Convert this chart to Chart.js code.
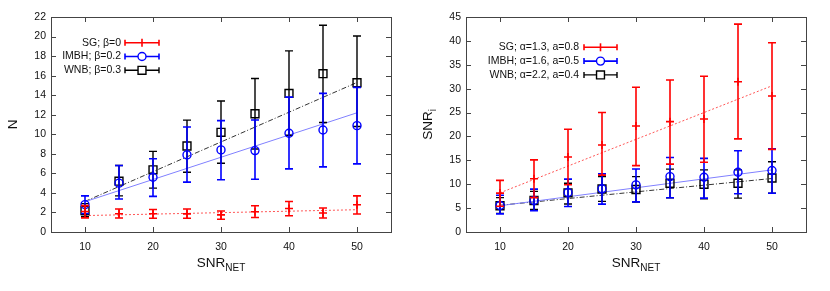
<!DOCTYPE html>
<html>
<head>
<meta charset="utf-8">
<script src="https://cdn.jsdelivr.net/npm/chart.js@4.4.0/dist/chart.umd.min.js"></script>
<style>
  html,body{margin:0;padding:0;background:#fff;}
  #wrap{display:flex;width:830px;height:291px;}
  canvas{display:block;}
</style>
</head>
<body>
<div id="wrap">
  <canvas id="c1" width="415" height="291"></canvas>
  <canvas id="c2" width="415" height="291"></canvas>
</div>
<script>
// ---------- shared ----------
const snr = [10, 15, 20, 25, 30, 35, 40, 45, 50];
const xTickLabels = [10, 20, 30, 40, 50];
const fitX = [10, 50];

// ---------- left panel: N ----------
const yTicksN = [0, 2, 4, 6, 8, 10, 12, 14, 16, 18, 20, 22];
const nSG     = [2.1, 1.87, 1.87, 1.85, 1.75, 2.07, 2.41, 1.94, 2.79];
const nSGLo   = [1.45, 1.43, 1.4, 1.4, 1.3, 1.49, 1.66, 1.43, 1.84];
const nSGHi   = [2.7, 2.35, 2.3, 2.35, 2.15, 2.68, 3.12, 2.45, 3.7];
const nIMBH   = [2.8, 5.0, 5.6, 7.89, 8.4, 8.33, 10.1, 10.44, 10.88];
const nIMBHLo = [1.9, 3.37, 3.65, 5.1, 5.34, 5.4, 6.46, 6.66, 6.97];
const nIMBHHi = [3.7, 6.8, 7.5, 10.75, 11.4, 11.46, 13.8, 14.18, 14.8];
const nWNB    = [2.2, 5.2, 6.36, 8.8, 10.2, 12.1, 14.18, 16.2, 15.27];
const nWNBLo  = [1.6, 3.7, 4.49, 6.12, 7.04, 8.5, 9.9, 11.2, 10.8];
const nWNBHi  = [2.9, 6.8, 8.25, 11.45, 13.4, 15.7, 18.53, 21.15, 20.06];
const nFitSG   = [1.68, 2.28];
const nFitIMBH = [3.1, 12.2];
const nFitWNB  = [3.13, 15.3];
const nLabels = ['SG; β=0', 'IMBH; β=0.2', 'WNB; β=0.3'];

// ---------- right panel: SNR_i ----------
const yTicksS = [0, 5, 10, 15, 20, 25, 30, 35, 40, 45];
const sSG     = [8.14, 11.13, 15.7, 18.2, 22.2, 23.1, 23.65, 31.45, 28.45];
const sSGLo   = [5.4, 7.2, 9.9, 11.9, 13.9, 14.2, 14.6, 19.5, 17.3];
const sSGHi   = [10.8, 15.1, 21.5, 25.0, 30.3, 31.8, 32.6, 43.5, 39.6];
const sIMBH   = [5.56, 6.6, 8.27, 9.04, 9.87, 11.6, 11.47, 12.5, 12.86];
const sIMBHLo = [3.8, 4.45, 5.35, 5.84, 6.3, 7.16, 7.1, 8.0, 8.1];
const sIMBHHi = [7.7, 8.98, 11.06, 12.17, 13.2, 15.6, 15.4, 17.0, 17.4];
const sWNB    = [5.5, 6.6, 8.2, 9.0, 8.9, 10.2, 10.0, 10.2, 11.3];
const sWNBLo  = [3.9, 4.7, 5.85, 6.4, 6.26, 7.16, 6.95, 7.1, 8.1];
const sWNBHi  = [7.2, 8.5, 10.2, 11.6, 11.6, 13.15, 13.0, 13.0, 14.7];
const sFitSG   = [8.2, 30.6];
const sFitIMBH = [5.5, 13.0];
const sFitWNB  = [5.6, 11.2];
const sLabels = ['SG; α=1.3, a=0.8', 'IMBH; α=1.6, a=0.5', 'WNB; α=2.2, a=0.4'];

const RED = '#ff0000', BLUE = '#0000ff', BLACK = '#000000';
const FONT = '"Liberation Sans", Arial, Helvetica, sans-serif';
const CAP = 4;

function pts(xs, ys) { return xs.map((x, i) => ({ x: x, y: ys[i] })); }

function buildChart(canvasId, cfg) {
  const errSets = [
    { lo: cfg.sgLo, hi: cfg.sgHi, color: RED, lw: 1.6 },
    { lo: cfg.imLo, hi: cfg.imHi, color: BLUE, lw: 1.6 },
    { lo: cfg.wnLo, hi: cfg.wnHi, color: BLACK, lw: 1.4 }
  ];
  const markers = [
    { style: 'cross', r: 4, color: RED, lw: 1.6 },
    { style: 'circle', r: 4, color: BLUE, lw: 1.4 },
    { style: 'rect', r: 5.6, color: BLACK, lw: 1.4 }
  ];

  const plugin = {
    id: 'gp_' + canvasId,
    beforeDatasetDraw(chart, args) {
      const e = errSets[args.index];
      if (!e) return;
      const xs = chart.scales.x, ys = chart.scales.y, ctx = chart.ctx;
      ctx.save();
      ctx.strokeStyle = e.color; ctx.lineWidth = e.lw; ctx.setLineDash([]);
      snr.forEach((x, i) => {
        const px = xs.getPixelForValue(x);
        const pl = ys.getPixelForValue(e.lo[i]);
        const ph = ys.getPixelForValue(e.hi[i]);
        ctx.beginPath();
        ctx.moveTo(px, pl); ctx.lineTo(px, ph);
        ctx.moveTo(px - CAP, pl); ctx.lineTo(px + CAP, pl);
        ctx.moveTo(px - CAP, ph); ctx.lineTo(px + CAP, ph);
        ctx.stroke();
      });
      ctx.restore();
    },
    afterDraw(chart) {
      const ctx = chart.ctx, a = chart.chartArea;
      const xs = chart.scales.x, ys = chart.scales.y;
      ctx.save();
      // frame
      ctx.strokeStyle = '#444'; ctx.lineWidth = 1;
      ctx.strokeRect(Math.round(a.left) + 0.5, Math.round(a.top) + 0.5,
                     Math.round(a.right - a.left), Math.round(a.bottom - a.top));
      // inward tick marks, mirrored
      const T = 5;
      ctx.beginPath();
      xTickLabels.forEach(v => {
        const p = Math.round(xs.getPixelForValue(v)) + 0.5;
        ctx.moveTo(p, a.bottom); ctx.lineTo(p, a.bottom - T);
        ctx.moveTo(p, a.top); ctx.lineTo(p, a.top + T);
      });
      cfg.yTicks.forEach(v => {
        const p = Math.round(ys.getPixelForValue(v)) + 0.5;
        ctx.moveTo(a.left, p); ctx.lineTo(a.left + T, p);
        ctx.moveTo(a.right, p); ctx.lineTo(a.right - T, p);
      });
      ctx.stroke();

      // legend
      ctx.font = '10.5px ' + FONT;
      ctx.textAlign = 'right'; ctx.textBaseline = 'middle';
      cfg.labels.forEach((lab, i) => {
        const y = cfg.legY + i * 13.8;
        const m = markers[i], e = errSets[i];
        ctx.fillStyle = '#111';
        ctx.fillText(lab, cfg.legTextX, y);
        const x1 = cfg.legX1, x2 = cfg.legX2, xm = (x1 + x2) / 2;
        ctx.strokeStyle = e.color; ctx.lineWidth = e.lw;
        ctx.beginPath();
        ctx.moveTo(x1, y); ctx.lineTo(x2, y);
        ctx.moveTo(x1, y - 3); ctx.lineTo(x1, y + 3);
        ctx.moveTo(x2, y - 3); ctx.lineTo(x2, y + 3);
        ctx.stroke();
        ctx.lineWidth = m.lw;
        ctx.beginPath();
        if (m.style === 'cross') {
          ctx.moveTo(xm, y - 4); ctx.lineTo(xm, y + 4);
        } else if (m.style === 'circle') {
          ctx.fillStyle = '#fff';
          ctx.arc(xm, y, m.r, 0, Math.PI * 2); ctx.fill();
        } else {
          ctx.fillStyle = '#fff';
          const s = m.r * Math.SQRT1_2;
          ctx.rect(xm - s, y - s, 2 * s, 2 * s); ctx.fill();
        }
        ctx.stroke();
      });

      // axis titles
      ctx.fillStyle = '#111';
      ctx.textAlign = 'left'; ctx.textBaseline = 'alphabetic';
      const cx = (a.left + a.right) / 2;
      ctx.font = '13.5px ' + FONT;
      const w1 = ctx.measureText('SNR').width;
      ctx.font = '10px ' + FONT;
      const w2 = ctx.measureText('NET').width;
      const sx = cx - (w1 + w2) / 2;
      ctx.font = '13.5px ' + FONT;
      ctx.fillText('SNR', sx, 266.5);
      ctx.font = '10px ' + FONT;
      ctx.fillText('NET', sx + w1, 270.5);

      // y title
      ctx.save();
      ctx.translate(17, (a.top + a.bottom) / 2);
      ctx.rotate(-Math.PI / 2);
      ctx.font = '13.5px ' + FONT;
      const yw1 = ctx.measureText(cfg.yTitle).width;
      let yw2 = 0;
      if (cfg.ySub) { ctx.font = '10px ' + FONT; yw2 = ctx.measureText(cfg.ySub).width; }
      ctx.font = '13.5px ' + FONT;
      ctx.fillText(cfg.yTitle, -(yw1 + yw2) / 2, 0);
      if (cfg.ySub) {
        ctx.font = '10px ' + FONT;
        ctx.fillText(cfg.ySub, -(yw1 + yw2) / 2 + yw1, 4);
      }
      ctx.restore();
      ctx.restore();
    }
  };

  return new Chart(document.getElementById(canvasId), {
    type: 'scatter',
    data: {
      datasets: [
        { data: pts(snr, cfg.sg), pointStyle: 'cross', pointRadius: 4, borderColor: RED,
          backgroundColor: 'rgba(0,0,0,0)', pointBorderWidth: 1.6, showLine: false },
        { data: pts(snr, cfg.im), pointStyle: 'circle', pointRadius: 4, borderColor: BLUE,
          backgroundColor: 'rgba(0,0,0,0)', pointBorderWidth: 1.4, showLine: false },
        { data: pts(snr, cfg.wn), pointStyle: 'rect', pointRadius: 5.6, borderColor: BLACK,
          backgroundColor: 'rgba(0,0,0,0)', pointBorderWidth: 1.4, showLine: false },
        { data: pts(fitX, cfg.fitSG), showLine: true, pointRadius: 0, borderColor: '#ff5555',
          borderWidth: 1, borderDash: [2, 2] },
        { data: pts(fitX, cfg.fitIM), showLine: true, pointRadius: 0, borderColor: '#8080ff',
          borderWidth: 1 },
        { data: pts(fitX, cfg.fitWN), showLine: true, pointRadius: 0, borderColor: '#333333',
          borderWidth: 1, borderDash: [5, 2, 1, 2] }
      ]
    },
    options: {
      responsive: false,
      animation: false,
      devicePixelRatio: 1,
      layout: { padding: { left: 0, right: 24, top: 17, bottom: 0 } },
      plugins: { legend: { display: false }, tooltip: { enabled: false } },
      scales: {
        x: {
          type: 'linear', min: 5, max: 55,
          grid: { display: false, drawTicks: false }, border: { display: false },
          afterBuildTicks: s => { s.ticks = xTickLabels.map(v => ({ value: v })); },
          afterFit: s => { s.height = 59; },
          ticks: { padding: 9, color: '#111', font: { family: FONT, size: 10.5 }, maxRotation: 0,
                   callback: v => String(v) }
        },
        y: {
          type: 'linear', min: cfg.yTicks[0], max: cfg.yTicks[cfg.yTicks.length - 1],
          grid: { display: false, drawTicks: false }, border: { display: false },
          afterBuildTicks: s => { s.ticks = cfg.yTicks.map(v => ({ value: v })); },
          afterFit: s => { s.width = 51; },
          ticks: { padding: 5, color: '#111', font: { family: FONT, size: 10.5 },
                   callback: v => String(v) }
        }
      }
    },
    plugins: [plugin]
  });
}

buildChart('c1', {
  sg: nSG, sgLo: nSGLo, sgHi: nSGHi,
  im: nIMBH, imLo: nIMBHLo, imHi: nIMBHHi,
  wn: nWNB, wnLo: nWNBLo, wnHi: nWNBHi,
  fitSG: nFitSG, fitIM: nFitIMBH, fitWN: nFitWNB,
  yTicks: yTicksN, labels: nLabels,
  legTextX: 121, legX1: 125, legX2: 159, legY: 42.7,
  yTitle: 'N', ySub: ''
});

buildChart('c2', {
  sg: sSG, sgLo: sSGLo, sgHi: sSGHi,
  im: sIMBH, imLo: sIMBHLo, imHi: sIMBHHi,
  wn: sWNB, wnLo: sWNBLo, wnHi: sWNBHi,
  fitSG: sFitSG, fitIM: sFitIMBH, fitWN: sFitWNB,
  yTicks: yTicksS, labels: sLabels,
  legTextX: 164, legX1: 169, legX2: 202, legY: 47.3,
  yTitle: 'SNR', ySub: 'i'
});
</script>
</body>
</html>
